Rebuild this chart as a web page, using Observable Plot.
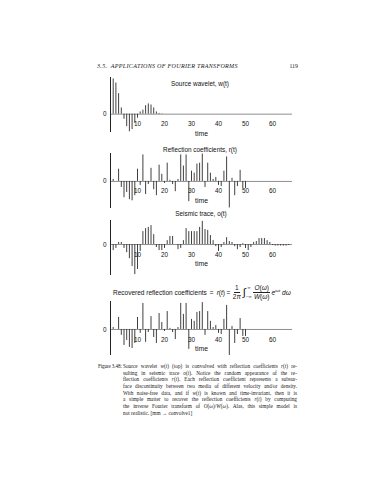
<!DOCTYPE html>
<html><head><meta charset="utf-8">
<script src="https://cdn.jsdelivr.net/npm/d3@7"></script>
<script src="https://cdn.jsdelivr.net/npm/@observablehq/plot@0.6"></script>
<style>
body{margin:0;background:#fff;}
#page{position:relative;width:367px;height:480px;overflow:hidden;background:#fff;}
.abs{position:absolute;white-space:nowrap;}
.sans{font-family:"Liberation Sans",Arial,sans-serif;color:#111;}
.serif{font-family:"Liberation Serif","DejaVu Serif",serif;color:#1a1a1a;}
.title{font-size:6.4px;transform:translate(-50%,-50%);line-height:1;}
.panel{position:absolute;left:0;}
.cap{position:absolute;left:123px;width:174px;font-size:5.3px;line-height:6.65px;text-align:justify;text-align-last:justify;white-space:nowrap;}
.cap.last{text-align-last:left;}
.frac{display:inline-flex;flex-direction:column;align-items:center;line-height:1.05;margin:0 1px;}
.frac span:first-child{border-bottom:0.6px solid #222;padding:0 1px 0.5px;}
.frac span:last-child{padding-top:0.5px;}
.int{display:inline-flex;align-items:center;margin:0 1px 0 1px;}
.int .sym{font-size:11px;line-height:1;}
.int .lims{display:inline-flex;flex-direction:column;justify-content:space-between;height:13px;font-size:4.2px;line-height:1;margin-left:0.3px;}
.int .lims span:first-child{padding-left:1.5px;}
</style></head><body><div id="page"></div>
<script>
// ---- data ----
const xTickLabels = [10, 20, 30, 40, 50, 60];
const yTickLabels = [0];
const wavelet = [0, 0.96, 0.85, 0.56, 0.17, -0.14, -0.34, -0.48, -0.42, -0.25, -0.11, 0.06, 0.11, 0.23, 0.28, 0.25, 0.17, 0.06, 0.02, 0.01];
const reflection = [0, 0.07, 0, 0.43, -0.21, -0.57, -0.39, -0.64, -0.68, -0.5, 0.43, -0.14, 0.93, -0.46, -0.11, 0.46, -0.29, -0.5, 0.57, 0.25, -0.07, 0.64, 0.04, -0.11, -0.36, 0.07, 0.93, 0.54, 0.93, -0.71, 0.36, 0.29, 0.61, 0.64, 0.96, -0.21, 0.64, 0.29, 0.07, 0.14, -0.14, -0.18, 0.36, 0.86, -0.93, 0.11, -0.5, -0.18, 0.39, -0.25, -0.25];
const seismic = [0, -0.2, -0.13, 0.07, 0.07, -0.13, -0.27, -0.47, -0.73, -1.0, -0.83, -0.23, 0.43, 0.53, 0.57, 0.63, 0.33, -0.1, -0.2, -0.2, -0.13, 0.13, 0.27, 0.27, 0, -0.17, -0.13, 0.13, 0.53, 0.43, 0.43, 0.43, 0.43, 0.57, 0.77, 0.5, 0.47, 0.3, 0.13, -0.07, -0.23, -0.1, 0.07, 0.23, 0.1, 0.07, -0.07, -0.17, -0.1, 0.03, -0.13, -0.2, -0.1, 0.07, 0.1, 0.2, 0.2, 0.2, 0.13, 0.07, -0.03, -0.05, -0.05, -0.05, -0.05, -0.05, -0.03];
const recovered = [0, 0.07, 0, 0.43, -0.21, -0.57, -0.39, -0.64, -0.68, -0.5, 0.43, -0.14, 0.93, -0.46, -0.11, 0.46, -0.29, -0.5, 0.57, 0.25, -0.07, 0.64, 0.04, -0.11, -0.36, 0.07, 0.93, 0.54, 0.93, -0.71, 0.36, 0.29, 0.61, 0.64, 0.96, -0.21, 0.64, 0.29, 0.07, 0.14, -0.14, -0.18, 0.36, 0.86, -0.93, 0.11, -0.5, -0.18, 0.39, -0.25, -0.25];
const panelTitles = ["Source wavelet, w(t)", "Reflection coefficients, r(t)", "Seismic trace, o(t)"];
const xLabel = "time";
const xDomain = [0, 67.4];

const page = document.getElementById("page");
function add(html){ page.insertAdjacentHTML("beforeend", html); }

// header
add(`<div class="abs serif" style="left:97px;top:62.5px;font-size:6.1px;font-style:italic;letter-spacing:0.28px;">3.5.&nbsp;&nbsp;APPLICATIONS OF FOURIER TRANSFORMS</div>`);
add(`<div class="abs serif" style="right:69px;top:62.5px;font-size:5.9px;">119</div>`);

function panel(values, domain, frameTop, frameBottom) {
  const data = values.map((v, i) => ({t: i, v})).filter(d => d.v !== 0);
  const mt = 12, mb = 26;
  const svg = Plot.plot({
    width: 367, height: frameBottom - frameTop + mt + mb,
    marginLeft: 110, marginRight: 75, marginTop: mt, marginBottom: mb,
    x: {domain: xDomain, axis: null},
    y: {domain, axis: null},
    style: {background: "transparent", overflow: "visible", fontFamily: "'Liberation Sans', Arial, sans-serif", fontSize: "6.4px", color: "#111"},
    marks: [
      Plot.ruleY([0], {stroke: "#8f8f8f", strokeWidth: 1}),
      Plot.ruleX(data, {x: "t", y1: 0, y2: "v", stroke: "#2b2b2b", strokeWidth: 0.9}),
      Plot.ruleX([0], {stroke: "#222", strokeWidth: 1}),
      Plot.text(xTickLabels, {x: d => d, y: 0, text: d => String(d), dy: 10, fill: "#111"}),
      Plot.text(yTickLabels, {x: 0, y: d => d, text: d => String(d), dx: -4, textAnchor: "end", fill: "#111"}),
      Plot.text([xLabel], {y: 0, text: d => d, frameAnchor: "middle", dy: 19.5, fontSize: 6.8, fill: "#111"})
    ]
  });
  svg.classList.add("panel");
  svg.style.top = (frameTop - mt) + "px";
  page.appendChild(svg);
}

panel(wavelet, [-0.5, 1.0], 77, 132);
panel(reflection, [-0.95, 0.98], 153, 208);
panel(seismic, [-1.03, 0.8], 220, 275);
panel(recovered, [-0.93, 1.0], 301, 355);

// titles
add(`<div class="abs sans title" style="left:200px;top:83.5px;">${panelTitles[0]}</div>`);
add(`<div class="abs sans title" style="left:200px;top:150px;">${panelTitles[1]}</div>`);
add(`<div class="abs sans title" style="left:201px;top:213.5px;">${panelTitles[2]}</div>`);

// panel 4 title with formula
add(`<div class="abs sans" style="left:113px;top:283px;height:19px;display:flex;align-items:center;font-size:6.5px;">
<span>Recovered reflection coefficients</span><span style="margin:0 3px 0 3px">=</span>
<span><i>r</i>(<i>t</i>)</span><span style="margin:0 1.5px">=</span>
<span class="frac"><span>1</span><span>2<i>π</i></span></span>
<span class="int"><span class="sym">∫</span><span class="lims"><span>∞</span><span>−∞</span></span></span>
<span class="frac"><span><i>O</i>(<i>ω</i>)</span><span><i>W</i>(<i>ω</i>)</span></span>
<span style="margin-left:0.5px"><i>e</i><sup style="font-size:4px"><i>iωt</i></sup> <i>dω</i></span>
</div>`);

// caption
add(`<div class="abs serif" style="left:98px;top:363px;font-size:5.1px;line-height:6.65px;letter-spacing:-0.1px;">Figure 3.48:</div>`);
const capLines = [
  "Source wavelet <i>w</i>(<i>t</i>) (top) is convolved with reflection coefficients <i>r</i>(<i>t</i>) re-",
  "sulting in seismic trace <i>o</i>(<i>t</i>). Notice the random appearance of the re-",
  "flection coefficients <i>r</i>(<i>t</i>). Each reflection coefficient represents a subsur-",
  "face discontinuity between two media of different velocity and/or density.",
  "With noise-free data, and if <i>w</i>(<i>t</i>) is known and time-invariant, then it is",
  "a simple matter to recover the reflection coefficients <i>r</i>(<i>t</i>) by computing",
  "the inverse Fourier transform of <i>O</i>(<i>ω</i>)/<i>W</i>(<i>ω</i>). Alas, this simple model is",
  "not realistic. [mm → convolve1]"
];
capLines.forEach((s, i) => {
  add(`<div class="cap serif${i === capLines.length - 1 ? " last" : ""}" style="top:${363 + i * 6.65}px;">${s}</div>`);
});
</script></body></html>
